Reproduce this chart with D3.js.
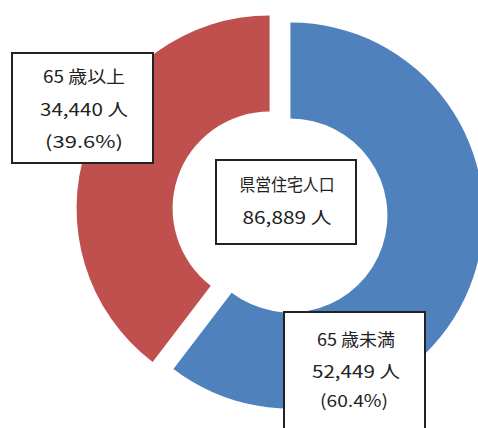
<!DOCTYPE html>
<html><head><meta charset="utf-8">
<script src="https://cdn.jsdelivr.net/npm/d3@7"></script>
<style>
html,body{margin:0;padding:0;background:#fff;}
svg{display:block;}
text{font-family:"Noto Sans CJK JP","Noto Sans",sans-serif;fill:#222;}
</style></head>
<body>
<svg id="c" width="478" height="428"></svg>
<script>
// Data
const categories = ["65 歳未満", "65 歳以上"];
const values = [52449, 34440];
const percentLabels = ["(60.4%)", "(39.6%)"];
const totalLabel = "県営住宅人口";
const total = 86889;
const colors = ["#4F81BD", "#C0504D"];

const svg = d3.select("#c");
const cx = 280, cy = 212, R = 193, r = 97, explode = 11;

const pie = d3.pie().sort(null).value(d => d)(values);
const arc = d3.arc().innerRadius(r).outerRadius(R);

const g = svg.append("g").attr("transform", `translate(${cx},${cy})`);
g.selectAll("path").data(pie).join("path")
  .attr("d", arc)
  .attr("fill", (d, i) => colors[i])
  .attr("transform", d => {
    const a = (d.startAngle + d.endAngle) / 2;
    return `translate(${Math.sin(a) * explode},${-Math.cos(a) * explode})`;
  });

const fmt = d3.format(",");

function box(x0, y0, x1, y1, lines) {
  svg.append("rect").attr("x", x0).attr("y", y0)
    .attr("width", x1 - x0).attr("height", y1 - y0)
    .attr("fill", "#fff").attr("stroke", "#222").attr("stroke-width", 2);
  lines.forEach(l => {
    svg.append("text").attr("x", l.x).attr("y", l.y)
      .attr("text-anchor", "middle").attr("dy", "0.36em")
      .attr("font-size", 17)
      .attr("textLength", l.w).attr("lengthAdjust", "spacingAndGlyphs")
      .text(l.t);
  });
}

// 65歳以上 box
box(12, 53, 153, 163, [
  {x: 84, y: 77, w: 82, t: categories[1]},
  {x: 84, y: 110, w: 88, t: fmt(values[1]) + " 人"},
  {x: 84, y: 142, w: 78, t: percentLabels[1]}
]);
// center box
box(216, 160, 356, 244, [
  {x: 287, y: 185, w: 95, t: totalLabel},
  {x: 287, y: 218, w: 89, t: fmt(total) + " 人"}
]);
// 65歳未満 box
box(284, 312, 425, 440, [
  {x: 356, y: 340, w: 78, t: categories[0]},
  {x: 356, y: 372, w: 88, t: fmt(values[0]) + " 人"},
  {x: 354, y: 401, w: 68, t: percentLabels[0]}
]);
</script>
</body></html>
